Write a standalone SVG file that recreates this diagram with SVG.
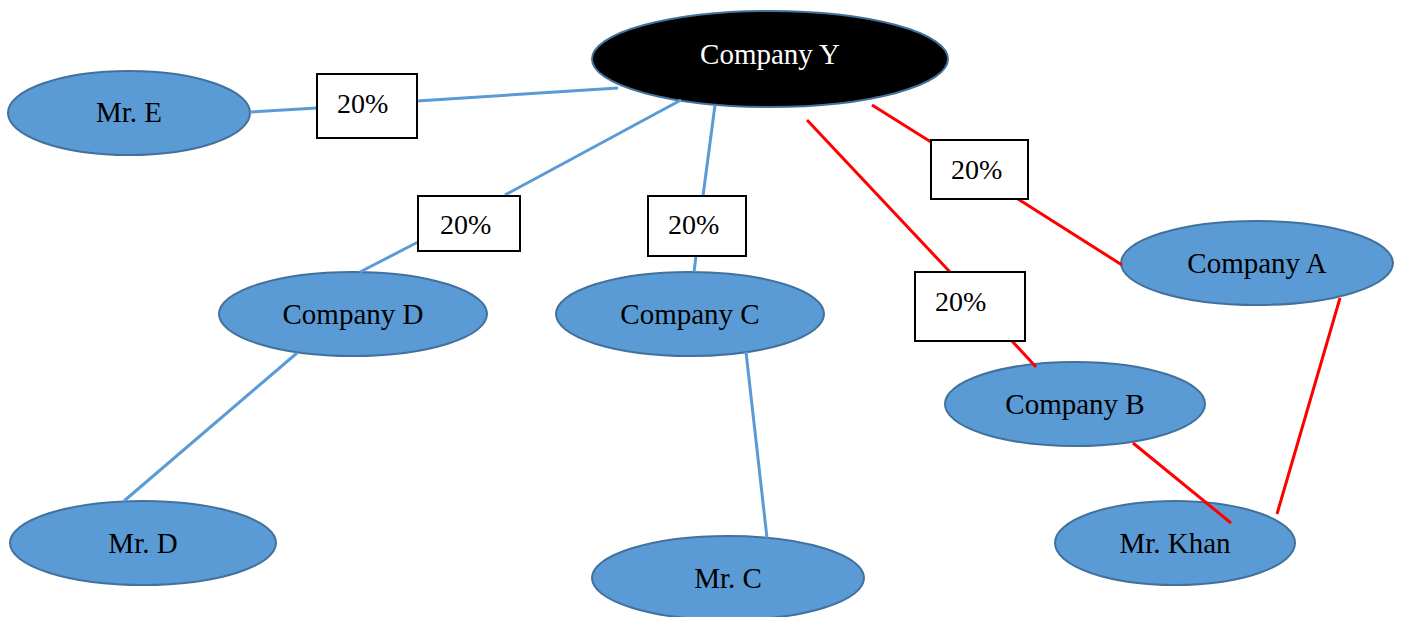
<svg xmlns="http://www.w3.org/2000/svg" width="1401" height="617" viewBox="0 0 1401 617">
<style>
.n ellipse{fill:#5B9BD5;stroke:#41719C;stroke-width:2}
.n text,.l text{font-family:"Liberation Serif","Times New Roman",serif;font-size:29px;fill:#000}
.l text{font-size:28px}
.n text{text-anchor:middle}
.b{stroke:#5B9BD5;stroke-width:3;fill:none}
.r{stroke:#FF0000;stroke-width:3;fill:none}
.l rect{fill:#fff;stroke:#000;stroke-width:2}
</style>
<rect width="1401" height="617" fill="#fff"/>
<g id="nodes">
<g id="companyY" class="n"><ellipse cx="770" cy="59" rx="178" ry="48" style="fill:#000"/><text x="770" y="64" style="fill:#fff">Company Y</text></g>
<g id="mrE" class="n"><ellipse cx="129" cy="113" rx="121" ry="42"/><text x="129" y="122">Mr. E</text></g>
<g id="companyD" class="n"><ellipse cx="353" cy="314" rx="134" ry="42"/><text x="353" y="324">Company D</text></g>
<g id="companyC" class="n"><ellipse cx="690" cy="314" rx="134" ry="42"/><text x="690" y="324">Company C</text></g>
<g id="companyA" class="n"><ellipse cx="1257" cy="263" rx="136" ry="42"/><text x="1257" y="273">Company A</text></g>
<g id="companyB" class="n"><ellipse cx="1075" cy="404" rx="130" ry="42"/><text x="1075" y="414">Company B</text></g>
<g id="mrD" class="n"><ellipse cx="143" cy="543" rx="133" ry="42"/><text x="143" y="553">Mr. D</text></g>
<g id="mrC" class="n"><ellipse cx="728" cy="578" rx="136" ry="42"/><text x="728" y="588">Mr. C</text></g>
<g id="mrKhan" class="n"><ellipse cx="1175" cy="543" rx="120" ry="42"/><text x="1175" y="553">Mr. Khan</text></g>
</g>
<g id="connectors">
<line class="b" x1="250" y1="112" x2="317" y2="108"/>
<line class="b" x1="417" y1="101" x2="618" y2="88"/>
<line class="b" x1="681" y1="100" x2="505" y2="195"/>
<line class="b" x1="418" y1="242" x2="360" y2="272"/>
<line class="b" x1="715" y1="105" x2="703" y2="196"/>
<line class="b" x1="696" y1="256" x2="694" y2="272"/>
<line class="b" x1="297" y1="353" x2="124" y2="501"/>
<line class="b" x1="746" y1="352" x2="767" y2="538"/>
<line class="r" x1="872" y1="105" x2="931" y2="142"/>
<line class="r" x1="1018" y1="199" x2="1122" y2="265"/>
<line class="r" x1="807" y1="120" x2="950" y2="272"/>
<line class="r" x1="1012" y1="341" x2="1036" y2="367"/>
<line class="r" x1="1133" y1="443" x2="1231" y2="523"/>
<line class="r" x1="1340" y1="298" x2="1277" y2="514"/>
</g>
<g id="labels" class="l">
<g id="label1"><rect x="317" y="74" width="100" height="64"/><text x="337" y="113">20%</text></g>
<g id="label2"><rect x="418" y="196" width="102" height="55"/><text x="440" y="234">20%</text></g>
<g id="label3"><rect x="648" y="196" width="98" height="60"/><text x="668" y="234">20%</text></g>
<g id="label4"><rect x="931" y="140" width="97" height="59"/><text x="951" y="179">20%</text></g>
<g id="label5"><rect x="915" y="272" width="110" height="69"/><text x="935" y="311">20%</text></g>
</g>
</svg>
